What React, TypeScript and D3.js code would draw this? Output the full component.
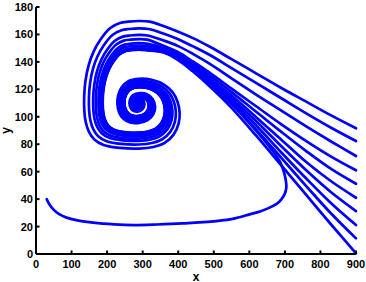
import React from "react";
import * as d3 from "d3";

type P = [number, number];

const xTicks = [0, 100, 200, 300, 400, 500, 600, 700, 800, 900];
const yTicks = [0, 20, 40, 60, 80, 100, 120, 140, 160, 180];

// Entry paths of each trajectory (data coords)
const entry90: P[] = [[900, 91.6], [830, 101], [760, 111], [690, 121], [620, 131.5], [550, 142], [489, 151], [440, 157.5], [400, 162], [360, 166]];
const entry80: P[] = [[900, 82.3], [830, 92], [760, 102.5], [690, 113.5], [620, 124.5], [550, 135.5], [489, 145], [440, 151.5], [400, 156.5], [360, 160.5]];
const entry70: P[] = [[900, 71.4], [830, 82], [760, 93], [690, 104.5], [620, 116], [550, 128], [489, 138.5], [440, 146], [400, 151.5], [360, 155.5]];
const entry60: P[] = [[900, 61], [830, 71], [760, 82.3], [690, 94.5], [620, 107.5], [550, 120.5], [489, 132], [440, 140.5], [400, 147], [360, 151.5]];
const entry50: P[] = [[900, 51.2], [830, 62], [760, 75], [690, 89], [620, 103.5], [550, 118], [489, 130], [440, 139], [400, 145.5], [360, 150]];
const entry40: P[] = [[900, 41], [830, 53], [760, 67], [690, 83.3], [620, 99.5], [550, 115.5], [489, 128], [440, 137.5], [400, 144.5], [360, 149]];
const entry30: P[] = [[900, 31.3], [830, 45], [760, 61], [690, 78.5], [620, 96.5], [550, 113.5], [489, 126.5], [440, 136.3], [400, 143.5], [360, 148.3]];
const entry20: P[] = [[900, 21.1], [830, 37], [760, 55], [690, 74], [620, 93.5], [550, 111.5], [489, 125], [440, 135.3], [400, 142.8], [360, 147.7]];
const entry10: P[] = [[900, 11.4], [830, 29.5], [760, 49.5], [690, 70], [620, 90.5], [550, 109.5], [489, 123.5], [440, 134.3], [400, 142], [360, 147.2]];
const entry0: P[] = [[900, 0.5], [830, 21.5], [760, 43], [690, 64.5], [620, 86], [550, 106.5], [489, 122], [440, 133.3], [400, 141.3], [360, 146.7]];
const entryLeft: P[] = [[30, 40], [38, 36], [48.7, 32.5], [65, 29], [86, 26.5], [120, 24.3], [161, 22.8], [220, 21.6], [274, 21.1], [340, 21.5], [413, 22.3], [507, 24], [560, 26], [601, 28.9], [630, 31], [657, 33.8], [677, 36.5], [690, 39.8], [700, 44], [704, 48.3], [703, 53], [699, 58], [693, 63], [685, 67.8], [674, 72], [662, 76.3], [640, 83.5], [610, 92.5], [570, 104], [530, 114.5], [489, 124], [440, 134.5], [400, 142.3], [360, 147.3]];

const entries: P[][] = [entry90, entry80, entry70, entry60, entry50, entry40, entry30, entry20, entry10, entry0, entryLeft];
// size of each trajectory's spiral relative to the outermost one
const spiralScale = [1.0, 0.91, 0.83, 0.78, 0.73, 0.7, 0.67, 0.66, 0.655, 0.65, 0.665];

// focus of the spiral
const focus: P = [285, 110];

// outermost spiral (data coords)
const spiralBase: P[] = [[320, 169.3], [290, 169.8], [260, 169.3], [236, 168.3], [208, 164.5], [182, 156.5], [162, 147.5], [148, 137.5], [139, 126], [135.5, 115], [136, 104], [140, 96], [149, 89], [164, 83.5], [190, 79.5], [236, 77.3], [290, 76.8], [330, 78], [362, 81], [387, 87], [401, 95], [404, 103], [398, 111], [384, 118], [360, 123.5], [325, 127], [290, 127.7], [260, 126], [241, 121.5], [231, 115.5], [229, 109], [234, 103], [246, 98.5], [265, 95.8], [290, 95.5], [314, 97.5], [330, 102], [335, 107.5], [328, 113], [312, 116.5], [292, 117.3], [273, 115.8], [264, 112.3], [264, 108], [271, 104.8], [285, 103.8], [299, 105.5], [305, 109], [301, 112.5], [290, 114], [280, 112.8], [276, 110], [280, 107.5], [288, 107.3], [294, 109.5], [291, 112], [285, 112], [282, 110.5], [285, 109], [288, 110], [286, 111]];

export default function App() {
  const W = 366, H = 282;
  const x = d3.scaleLinear().domain([0, 900]).range([36, 356]);
  const y = d3.scaleLinear().domain([0, 180]).range([254, 7]);
  const line = d3
    .line<P>()
    .x((d) => x(d[0]))
    .y((d) => y(d[1]))
    .curve(d3.curveCatmullRom.alpha(0.5));

  const paths = entries.map((e, i) => {
    const s = spiralScale[i];
    const sp: P[] = spiralBase.map(([a, b]) => [focus[0] + s * (a - focus[0]), focus[1] + s * (b - focus[1])]);
    return line([...e, ...sp]) || "";
  });

  const font = "'Liberation Sans', Arial, Helvetica, sans-serif";
  const x0 = x(0), y0 = y(0);

  return (
    <svg width={W} height={H} style={{ position: "absolute", left: 0, top: 0, background: "#fff" }}>
      <rect width={W} height={H} fill="#fff" />
      {paths.map((d, i) => (
        <path key={i} d={d} fill="none" stroke="#0000ff" strokeWidth={2.7} strokeLinejoin="round" strokeLinecap="round" />
      ))}
      {/* axes */}
      <line x1={x0} x2={x0} y1={y(180)} y2={y0} stroke="#000" strokeWidth={2} />
      <line x1={x0} x2={x(900)} y1={y0} y2={y0} stroke="#000" strokeWidth={2} />
      {xTicks.map((t) => (
        <g key={"x" + t}>
          <line x1={x(t)} x2={x(t)} y1={y0} y2={y0 - 3.5} stroke="#000" strokeWidth={2} />
          <text x={x(t)} y={268} textAnchor="middle" fontFamily={font} fontSize={11} fontWeight="bold" fill="#000">{t}</text>
        </g>
      ))}
      {yTicks.map((t) => (
        <g key={"y" + t}>
          <line x1={x0} x2={x0 + 3.5} y1={y(t)} y2={y(t)} stroke="#000" strokeWidth={2} />
          <text x={33} y={y(t)} dy="0.36em" textAnchor="end" fontFamily={font} fontSize={11} fontWeight="bold" fill="#000">{t}</text>
        </g>
      ))}
      <text x={x(450)} y={280.5} textAnchor="middle" fontFamily={font} fontSize={12} fontWeight="bold" fill="#000">x</text>
      <text transform={`translate(10,${y(90)}) rotate(-90)`} textAnchor="middle" fontFamily={font} fontSize={12} fontWeight="bold" fill="#000">y</text>
    </svg>
  );
}
